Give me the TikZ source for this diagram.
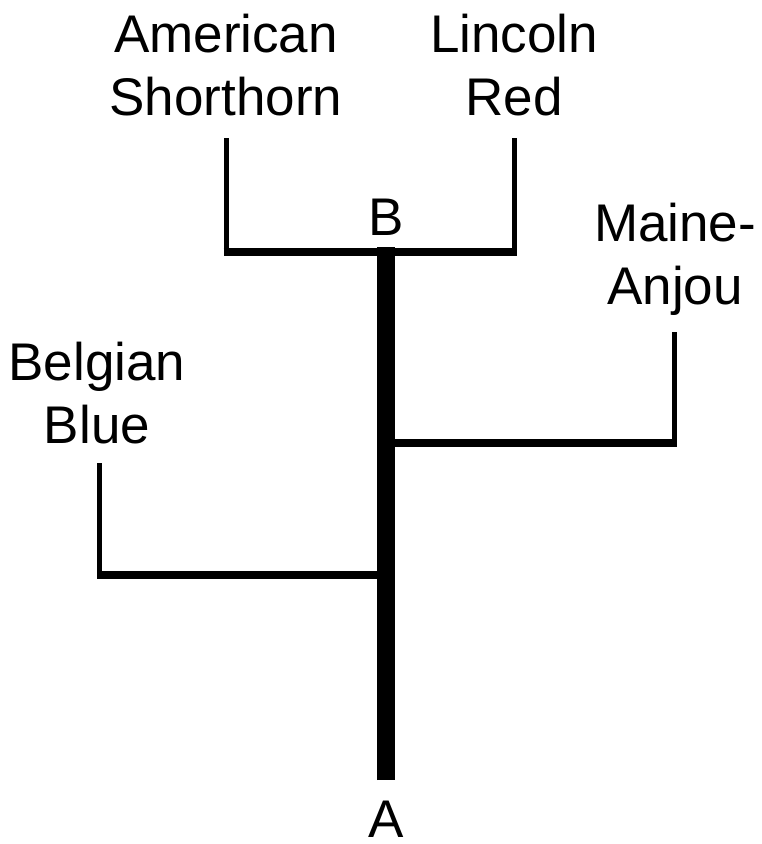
\documentclass[tikz,border=0pt]{standalone}
\usepackage{fontspec}
\setmainfont{Liberation Sans}
\begin{document}
\begin{tikzpicture}[x=1pt,y=-1pt,
  single/.style={inner sep=0pt, outer sep=0pt, anchor=base,
    font=\fontsize{53}{63}\selectfont},
  lbl/.style={single, align=center},
  vline/.style={line width=5pt},
  hline/.style={line width=8pt},
  trunk/.style={line width=18pt}]
\useasboundingbox (0,0) rectangle (762,844);
% labels (base anchor = baseline of last line)
\node[lbl] (amsh) at (226,115) {American\\Shorthorn};
\node[lbl] (linc) at (514,115) {Lincoln\\Red};
\node[lbl] (maine) at (675,304) {Maine-\\Anjou};
\node[lbl] (belg) at (97,443) {Belgian\\Blue};
\node[single] (B) at (386,235) {B};
\node[single] (A) at (386,837) {A};
% coordinates
\coordinate (amtop) at (226,138);
\coordinate (amj) at (226,251.5);
\coordinate (litop) at (514,138);
\coordinate (lij) at (514,251.5);
\coordinate (btop) at (386,247);
\coordinate (abot) at (386,780);
\coordinate (matop) at (674.5,332);
\coordinate (maj) at (674.5,442.5);
\coordinate (mat) at (386,442.5);
\coordinate (betop) at (99.5,463);
\coordinate (bej) at (99.5,574.5);
\coordinate (bet) at (386,574.5);
% trunk
\draw[trunk] (abot) -- (btop);
% B bracket
\draw[vline] (amtop) -- (amj);
\draw[vline] (litop) -- (lij);
\draw[hline] ([xshift=-2.5pt]amj) -- ([xshift=2.5pt]lij);
% Maine-Anjou
\draw[vline] (matop) -- ([yshift=4pt]maj);
\draw[hline] (mat) -- ([xshift=2.5pt]maj);
% Belgian Blue
\draw[vline] (betop) -- ([yshift=4pt]bej);
\draw[hline] ([xshift=-2.5pt]bej) -- (bet);
\end{tikzpicture}
\end{document}
